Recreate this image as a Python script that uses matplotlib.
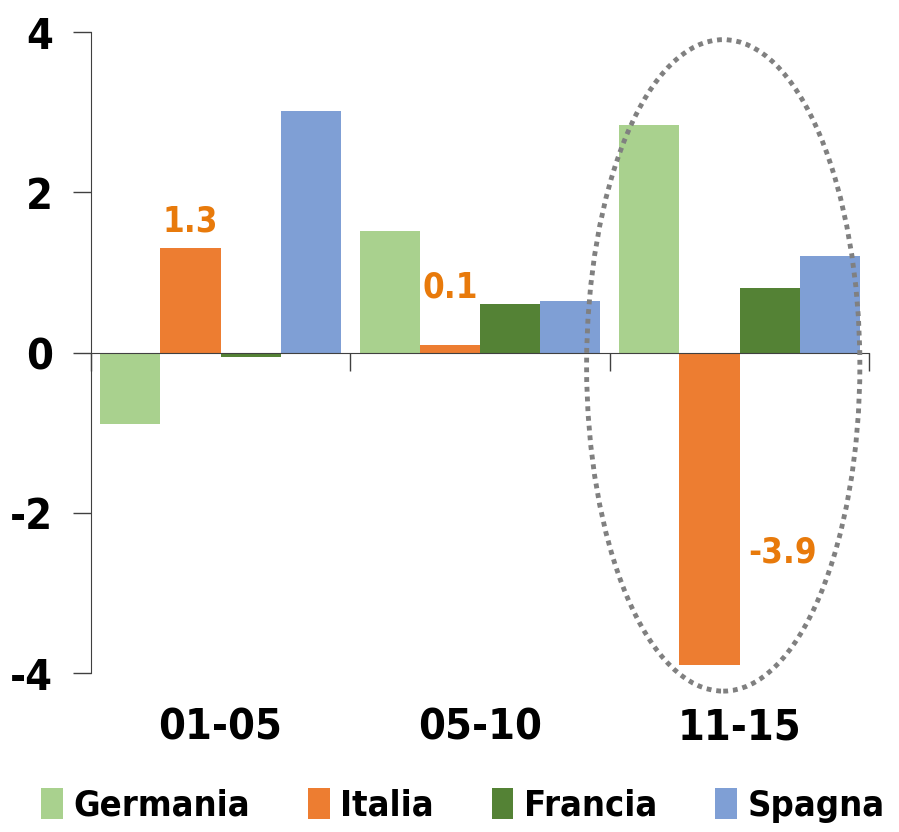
import matplotlib
matplotlib.use('Agg')
import matplotlib.pyplot as plt
from matplotlib.patches import Ellipse, Patch
from matplotlib import transforms
import numpy as np

plt.rcParams['font.family'] = ['DejaVu Sans']
plt.rcParams['font.stretch'] = 'condensed'

# dati
periodi = ['01-05', '05-10', '11-15']
paesi = ['Germania', 'Italia', 'Francia', 'Spagna']
germania = [-0.89, 1.52, 2.84]
italia = [1.3, 0.1, -3.9]
francia = [-0.05, 0.6, 0.81]
spagna = [3.02, 0.64, 1.2]
etichette_italia = ['1.3', '0.1', '-3.9']

colori = ['#A9D18E', '#ED7D31', '#548235', '#7F9FD5']
serie = [germania, italia, francia, spagna]

fig = plt.figure(figsize=(8.99, 8.32), dpi=100)
ax = fig.add_axes([0.101, 0.191, 0.866, 0.7705])

x = np.arange(len(periodi))
w = 0.232
for i, (vals, col) in enumerate(zip(serie, colori)):
    ax.bar(x + (i - 1.5) * w, vals, width=w, color=col, label=paesi[i], zorder=2)

# etichette arancioni sui valori dell'Italia
arancio = '#E87A0B'
xi = x - 0.5 * w
ax.text(xi[0], italia[0] + 0.12, etichette_italia[0], color=arancio, fontsize=25,
        fontweight='bold', ha='center', va='bottom')
ax.text(xi[1], italia[1] + 0.5, etichette_italia[1], color=arancio, fontsize=25,
        fontweight='bold', ha='center', va='bottom')
ax.text(xi[2] + 1.22 * w, -2.5, etichette_italia[2], color=arancio, fontsize=25,
        fontweight='bold', ha='center', va='center')

ax.set_xlim(-0.5, 2.5)
ax.set_ylim(-4, 4)
ax.set_yticks([-4, -2, 0, 2, 4])
ax.set_yticklabels(['-4', '-2', '0', '2', '4'], fontsize=31, fontweight='bold')
ax.tick_params(axis='y', length=13, width=1, color='#404040', pad=14)

for s in ['top', 'right']:
    ax.spines[s].set_visible(False)
ax.spines['left'].set_color('#404040')
ax.spines['bottom'].set_position(('data', 0))
ax.spines['bottom'].set_color('#404040')
ax.spines['bottom'].set_zorder(3)

ax.set_xticks([-0.5, 0.5, 1.5, 2.5])
ax.set_xticklabels([])
ax.tick_params(axis='x', length=13, width=1, color='#404040', direction='out')

trans = transforms.blended_transform_factory(ax.transData, ax.transAxes)
for j, p in enumerate(periodi):
    ax.text(x[j], -0.085, p, transform=trans, fontsize=31, fontweight='bold',
            ha='center', va='center')

# ellisse tratteggiata
ell = Ellipse((1.937, -0.16), 1.053, 8.13, fill=False, edgecolor='#808080',
              linestyle=(0, (1, 1)), linewidth=3.5, zorder=4, clip_on=False)
ax.add_patch(ell)

handles = [Patch(facecolor=c, label=p) for c, p in zip(colori, paesi)]
fig.legend(handles=handles, loc='lower center', bbox_to_anchor=(0.515, -0.028), ncol=4,
           frameon=False, prop={'size': 26, 'weight': 'bold', 'stretch': 'condensed'},
           handlelength=0.6, handleheight=0.95, handletextpad=0.3, columnspacing=1.6)

fig.savefig('out.png', dpi=100)
